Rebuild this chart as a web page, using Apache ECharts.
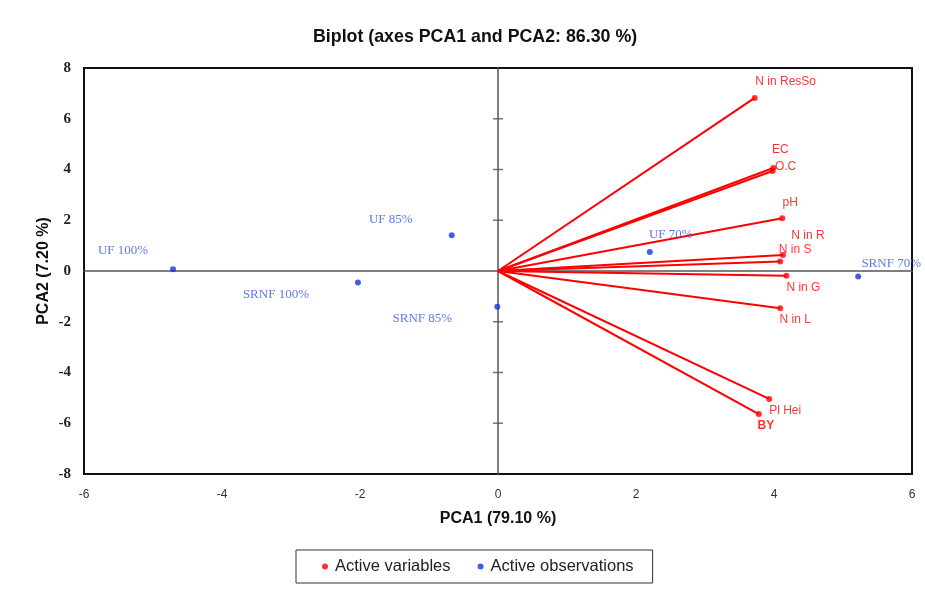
<!DOCTYPE html>
<html>
<head>
<meta charset="utf-8">
<script src="https://cdn.jsdelivr.net/npm/echarts@6/dist/echarts.min.js"></script>
<style>html,body{margin:0;padding:0;background:#fff}#c{width:925px;height:591px}</style>
</head>
<body>
<div id="c"></div>
<script>
// ---- data ----
const varNames = ['N in ResSo', 'EC', 'O.C', 'pH', 'N in R', 'N in S', 'N in G', 'N in L', 'Pl Hei', 'BY'];
const varX = [3.72, 3.99, 3.98, 4.12, 4.13, 4.09, 4.18, 4.09, 3.93, 3.78];
const varY = [6.82, 4.06, 3.94, 2.08, 0.63, 0.37, -0.19, -1.47, -5.04, -5.64];
const obsNames = ['UF 100%', 'SRNF 100%', 'UF 85%', 'SRNF 85%', 'UF 70%', 'SRNF 70%'];
const obsX = [-4.71, -2.03, -0.67, -0.01, 2.20, 5.22];
const obsY = [0.07, -0.45, 1.41, -1.41, 0.75, -0.22];
const xTickMin = -6, xTickMax = 6, xTickStep = 2;
const yTickMin = -8, yTickMax = 8, yTickStep = 2;
const yTickValues = [-6, -4, -2, 2, 4, 6];   // cross ticks on the vertical zero axis

// ---- label placement (style) ----
const varLabelOffset = {
  'N in ResSo': [31, -16], 'EC': [7, -18], 'O.C': [13, -4], 'pH': [8, -16],
  'N in R': [25, -19], 'N in S': [15, -12], 'N in G': [17, 12], 'N in L': [15, 11],
  'Pl Hei': [16, 12], 'BY': [7, 12]
};
const obsLabelOffset = {
  'UF 100%': [-50, -19], 'SRNF 100%': [-82, 12], 'UF 85%': [-61, -16],
  'SRNF 85%': [-75, 12], 'UF 70%': [21, -17], 'SRNF 70%': [33, -13]
};

const RED = '#ff0000';
const BLUE = '#1238e0';
const BLUE_TXT = '#3559de';

const varData = varNames.map((n, i) => ({
  name: n, value: [varX[i], varY[i]],
  label: { offset: varLabelOffset[n], fontWeight: n === 'BY' ? 'bold' : 'normal' }
}));
const obsData = obsNames.map((n, i) => ({
  name: n, value: [obsX[i], obsY[i]],
  label: { offset: obsLabelOffset[n] }
}));
const vecData = varNames.map((n, i) => ({ coords: [[0, 0], [varX[i], varY[i]]] }));
const tickData = yTickValues.map(v => [0, v]);

const chart = echarts.init(document.getElementById('c'));
const axisBase = { type: 'value', splitLine: { show: false } };
const ZL = { color: '#555', width: 1.5 };
chart.setOption({
  animation: false,
  backgroundColor: '#fff',
  title: {
    text: 'Biplot (axes PCA1 and PCA2: 86.30 %)',
    left: 308, top: 23,
    textStyle: { fontFamily: 'Liberation Sans, Arial, sans-serif', fontSize: 17.8, fontWeight: 'bold', color: '#111' }
  },
  legend: {
    left: 296, top: 550,
    padding: [8, 19, 8, 26],
    borderColor: '#333', borderWidth: 1,
    itemGap: 27, itemWidth: 6, itemHeight: 6,
    icon: 'circle',
    data: ['Active variables', 'Active observations'],
    textStyle: { fontFamily: 'Liberation Sans, Arial, sans-serif', fontSize: 16.5, color: '#222', padding: [0, 0, 0, 2] }
  },
  grid: { left: 84, right: 13, top: 68, bottom: 117, show: true, borderColor: '#111', borderWidth: 2 },
  xAxis: [
    Object.assign({}, axisBase, {
      min: xTickMin, max: xTickMax, interval: xTickStep, position: 'bottom',
      axisLine: { show: false, onZero: false }, axisTick: { show: false },
      axisLabel: { margin: 15, fontFamily: 'Liberation Sans, Arial, sans-serif', fontSize: 12, color: '#333' },
      name: 'PCA1 (79.10 %)', nameLocation: 'middle', nameGap: 37,
      nameTextStyle: { fontFamily: 'Liberation Sans, Arial, sans-serif', fontSize: 16, fontWeight: 'bold', color: '#111' }
    }),
    Object.assign({}, axisBase, {
      min: xTickMin, max: xTickMax, interval: xTickStep, position: 'bottom',
      axisLine: { show: true, onZero: true, onZeroAxisIndex: 0, lineStyle: ZL },
      axisTick: { show: false }, axisLabel: { show: false }
    })
  ],
  yAxis: [
    Object.assign({}, axisBase, {
      min: yTickMin, max: yTickMax, interval: yTickStep, position: 'left',
      axisLine: { show: false, onZero: false }, axisTick: { show: false },
      axisLabel: { margin: 13, fontFamily: 'Liberation Serif, Times New Roman, serif', fontSize: 15, fontWeight: 'bold', color: '#222' },
      name: 'PCA2 (7.20 %)', nameLocation: 'middle', nameGap: 32, nameRotate: 90, nameMoveOverlap: false,
      nameTextStyle: { fontFamily: 'Liberation Sans, Arial, sans-serif', fontSize: 16, fontWeight: 'bold', color: '#111' }
    }),
    Object.assign({}, axisBase, {
      min: yTickMin, max: yTickMax, interval: yTickStep, position: 'left',
      axisLine: { show: true, onZero: true, onZeroAxisIndex: 0, lineStyle: ZL },
      axisTick: { show: false },
      axisLabel: { show: false }
    })
  ],
  series: [
    {
      name: 'zeroTicks', type: 'scatter', xAxisIndex: 0, yAxisIndex: 0, silent: true,
      symbol: 'rect', symbolSize: [10, 1.5], itemStyle: { color: '#555' },
      data: tickData, z: 2
    },
    {
      name: 'vectors', type: 'lines', coordinateSystem: 'cartesian2d',
      xAxisIndex: 0, yAxisIndex: 0, silent: true,
      lineStyle: { color: RED, width: 2, opacity: 1, curveness: 0 },
      data: vecData, z: 3
    },
    {
      name: 'Active variables', type: 'scatter', xAxisIndex: 0, yAxisIndex: 0,
      symbol: 'circle', symbolSize: 6, itemStyle: { color: RED },
      label: { show: true, position: 'inside', formatter: '{b}', color: RED,
        fontFamily: 'Liberation Sans, Arial, sans-serif', fontSize: 12, align: 'center', verticalAlign: 'middle' },
      data: varData, z: 4
    },
    {
      name: 'Active observations', type: 'scatter', xAxisIndex: 0, yAxisIndex: 0,
      symbol: 'circle', symbolSize: 6, itemStyle: { color: BLUE },
      label: { show: true, position: 'inside', formatter: '{b}', color: BLUE_TXT,
        fontFamily: 'Liberation Serif, Times New Roman, serif', fontSize: 13, align: 'center', verticalAlign: 'middle' },
      data: obsData, z: 4
    }
  ]
});
</script>
</body>
</html>
